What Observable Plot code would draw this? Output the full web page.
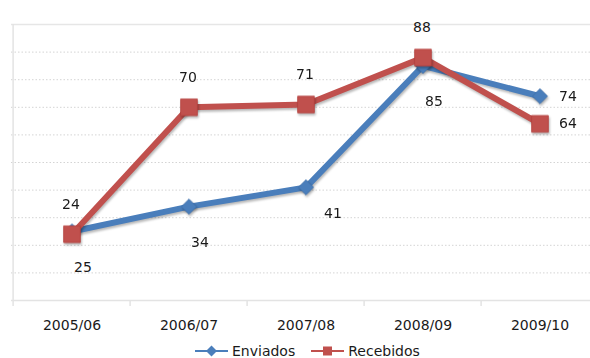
<!DOCTYPE html>
<html>
<head>
<meta charset="utf-8">
<script src="https://cdn.jsdelivr.net/npm/d3@7"></script>
<script src="https://cdn.jsdelivr.net/npm/@observablehq/plot@0.6"></script>
<style>
  body { margin: 0; background: #fff; font-family: "DejaVu Sans", sans-serif; }
  #wrap { position: relative; width: 590px; height: 358px; overflow: hidden; }
  #chart svg g[aria-label="dot"],
  #chart svg g[aria-label="line"] { filter: drop-shadow(1px 2px 1.2px rgba(0,0,0,0.28)); }
  .legend { position: absolute; left: 195px; top: 341px; display: flex; align-items: center;
            font-size: 14px; color: #1a1a1a; line-height: 20px; white-space: nowrap; }
  .legend .item { display: flex; align-items: center; margin-right: 16px; }
  .legend svg { margin-right: 4px; }
</style>
</head>
<body>
<div id="wrap">
  <div id="chart"></div>
  <div class="legend" id="legend"></div>
</div>
<script>
// Categories (academic years) and the two series
const years = ["2005/06", "2006/07", "2007/08", "2008/09", "2009/10"];
const enviados = [25, 34, 41, 85, 74];
const recebidos = [24, 70, 71, 88, 64];
// Where each value label sits relative to its point
const enviadosLabelPos = ["below", "below", "belowRight", "below", "right"];
const recebidosLabelPos = ["above", "above", "above", "above", "right"];
const gridValues = [10, 20, 30, 40, 50, 60, 70, 80, 90];

const blue = "#4a7ebb";
const red = "#c0504d";

const rowsEnv = years.map((year, i) => ({year, value: enviados[i], pos: enviadosLabelPos[i]}));
const rowsRec = years.map((year, i) => ({year, value: recebidos[i], pos: recebidosLabelPos[i]}));

const xRange = [11, 600];
const bw = (xRange[1] - xRange[0]) / years.length;

const offsets = {
  above: {dx: -1, dy: -30},
  below: {dx: 11, dy: 36},
  belowRight: {dx: 27, dy: 26},
  right: {dx: 28, dy: 0}
};

function labels(rows) {
  return Object.entries(offsets).map(([key, o]) =>
    Plot.text(rows.filter(d => d.pos === key), {
      x: "year", y: "value", text: d => String(d.value),
      dx: o.dx, dy: o.dy, fontSize: 14, fill: "#1a1a1a"
    })
  );
}

const chart = Plot.plot({
  width: 590,
  height: 340,
  marginTop: 24,
  marginBottom: 40,
  marginLeft: 11,
  marginRight: 0,
  style: {fontFamily: "DejaVu Sans, sans-serif", fontSize: "14px", color: "#1a1a1a", background: "#fff"},
  x: {type: "band", domain: years, range: xRange, padding: 0, tickSize: 0, tickPadding: 20, label: null},
  y: {domain: [0, 100], axis: null},
  marks: [
    // dotted horizontal gridlines
    Plot.ruleY(gridValues, {stroke: "#d4d4d4", strokeDasharray: "1.5,2"}),
    // top frame line and baseline
    Plot.ruleY([100], {stroke: "#e6e6e6", strokeWidth: 1.5}),
    Plot.ruleY([0], {stroke: "#e3e3e3", strokeWidth: 1.5}),
    // left frame line
    Plot.ruleX([years[0]], {y1: 100, y2: 0, dx: -bw / 2, insetBottom: -6, stroke: "#e3e3e3", strokeWidth: 1.5}),
    // category boundary ticks
    Plot.ruleX(years.slice(1), {y1: 0, y2: 0, dx: -bw / 2, insetBottom: -6, stroke: "#e3e3e3", strokeWidth: 1.5}),
    // Enviados
    Plot.line(rowsEnv, {x: "year", y: "value", stroke: blue, strokeWidth: 6, strokeLinejoin: "round"}),
    Plot.dot(rowsEnv, {x: "year", y: "value", symbol: "diamond2", r: 6.8, fill: blue, stroke: "#3f70ab", strokeWidth: 0.8}),
    // Recebidos
    Plot.line(rowsRec, {x: "year", y: "value", stroke: red, strokeWidth: 6, strokeLinejoin: "round"}),
    Plot.dot(rowsRec, {x: "year", y: "value", symbol: "square", r: 9.4, fill: red, stroke: "#b5403d", strokeWidth: 0.8}),
    ...labels(rowsEnv),
    ...labels(rowsRec)
  ]
});
document.getElementById("chart").appendChild(chart);

// Legend below the chart
const legend = d3.select("#legend");
[{name: "Enviados", color: blue, shape: "diamond"}, {name: "Recebidos", color: red, shape: "square"}].forEach(s => {
  const item = legend.append("div").attr("class", "item");
  const sw = item.append("svg").attr("width", 33).attr("height", 14);
  sw.append("line").attr("x1", 0).attr("x2", 33).attr("y1", 7).attr("y2", 7)
    .attr("stroke", s.color).attr("stroke-width", 2);
  if (s.shape === "diamond") {
    sw.append("path").attr("d", "M16.5,1.5L22,7L16.5,12.5L11,7Z").attr("fill", s.color);
  } else {
    sw.append("rect").attr("x", 12).attr("y", 2.5).attr("width", 9).attr("height", 9).attr("fill", s.color);
  }
  item.append("span").text(s.name);
});
</script>
</body>
</html>
